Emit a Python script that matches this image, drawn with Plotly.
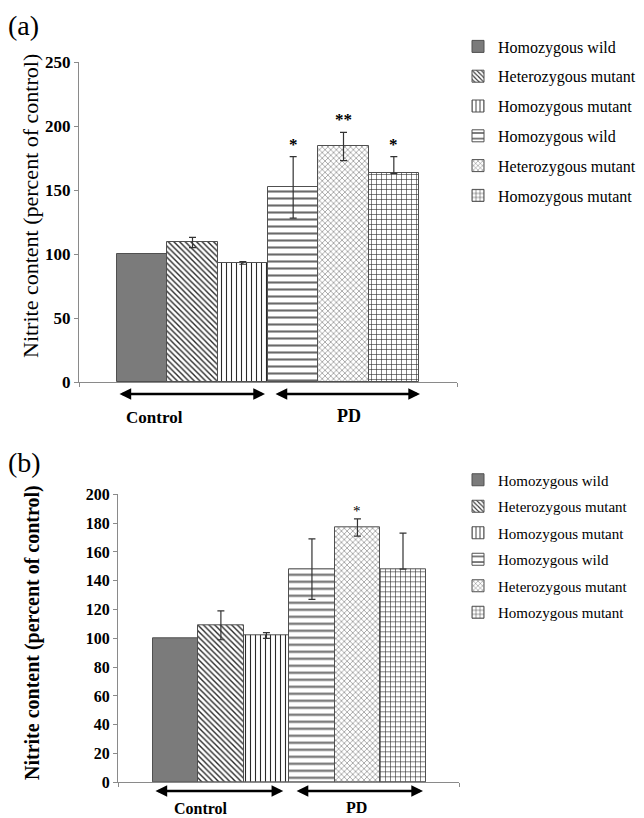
import plotly.graph_objects as go

# ---- data ----
genotypes = ["Homozygous wild", "Heterozygous mutant", "Homozygous mutant",
             "Homozygous wild", "Heterozygous mutant", "Homozygous mutant"]
groups = ["Control", "PD"]

a_values = [100, 109, 93, 152, 184, 163]
a_err_up = [0, 4, 1, 24, 11, 13]
a_err_down = [0, 4, 1, 24, 11, 0]
a_sig = ["", "", "", "*", "**", "*"]

b_values = [100, 109, 102, 148, 177, 148]
b_err_up = [0, 10, 2, 21, 6, 25]
b_err_down = [0, 10, 2, 21, 6, 0]
b_sig = ["", "", "", "", "*", ""]

a_ticks = [0, 50, 100, 150, 200, 250]
b_ticks = [0, 20, 40, 60, 80, 100, 120, 140, 160, 180, 200]

# ---- styles ----
patterns = [
    dict(shape="", color="#7b7b7b"),
    dict(shape="\\", size=4, solidity=0.35, fg="#2a2a2a"),
    dict(shape="|", size=5, solidity=0.22, fg="#2a2a2a"),
    dict(shape="-", size=7, solidity=0.3, fg="#6a6a6a"),
    dict(shape="x", size=4, solidity=0.2, fg="#3a3a3a"),
    dict(shape="+", size=5, solidity=0.22, fg="#2a2a2a"),
]

SERIF = "Liberation Serif"

fig = go.Figure()


def add_panel(values, err_up, err_down, xa, ya, legend):
    for i, (name, v) in enumerate(zip(genotypes, values)):
        p = patterns[i]
        if p["shape"] == "":
            marker = dict(color=p["color"], line=dict(color="#505050", width=1))
        else:
            marker = dict(color="white", line=dict(color="#505050", width=1),
                          pattern=dict(shape=p["shape"], size=p["size"], solidity=p["solidity"],
                                       fgcolor=p["fg"], bgcolor="white", fillmode="replace"))
        fig.add_trace(go.Bar(
            x=[i], y=[v], width=1, name=name, marker=marker,
            xaxis=xa, yaxis=ya, legend=legend, legendgroup=legend + str(i),
            error_y=dict(type="data", symmetric=False, array=[err_up[i]], arrayminus=[err_down[i]],
                         visible=err_up[i] > 0, color="#333333", thickness=1.2, width=3.5),
            showlegend=True,
        ))


add_panel(a_values, a_err_up, a_err_down, "x", "y", "legend")
add_panel(b_values, b_err_up, b_err_down, "x2", "y2", "legend2")

H = 818.0
W = 644.0

def py(px):
    return (H - px) / H

def pxx(px):
    return px / W

ann = []
# significance marks
for i, s in enumerate(a_sig):
    if s:
        ann.append(dict(x=i, y=a_values[i] + a_err_up[i], xref="x", yref="y", text="<b>" + s + "</b>",
                        showarrow=False, yanchor="bottom", xanchor="center", yshift=1,
                        font=dict(family=SERIF, size=17, color="black")))
for i, s in enumerate(b_sig):
    if s:
        ann.append(dict(x=i, y=b_values[i] + b_err_up[i], xref="x2", yref="y2", text=s,
                        showarrow=False, yanchor="bottom", xanchor="center", yshift=-2,
                        font=dict(family=SERIF, size=15, color="black")))

# group arrows
def arrow(xref, x0, x1, ypx):
    return dict(x=x1, y=py(ypx), ax=x0, ay=0, xref=xref, yref="paper", axref=xref, ayref="pixel",
                text="", showarrow=True, arrowhead=2, arrowside="end+start", arrowsize=0.9,
                arrowwidth=2.6, arrowcolor="black")

ann += [arrow("x", -0.48, 2.44, 394), arrow("x", 2.62, 5.52, 394),
        arrow("x2", -0.47, 2.37, 791), arrow("x2", 2.63, 5.44, 791)]

def label(x, xref, ypx, text, size, angle=0, anchor="center"):
    return dict(x=x, y=py(ypx), xref=xref, yref="paper", text=text, showarrow=False,
                xanchor=anchor, yanchor="middle", textangle=angle,
                font=dict(family=SERIF, size=size, color="black"))

# group labels
ann += [label(0.24, "x", 417, "<b>" + groups[0] + "</b>", 17),
        label(4.11, "x", 416, "<b>" + groups[1] + "</b>", 18),
        label(0.56, "x2", 808, "<b>" + groups[0] + "</b>", 16),
        label(3.98, "x2", 807, "<b>" + groups[1] + "</b>", 16)]

# axis titles
ann += [label(pxx(30), "paper", 206, "Nitrite content (percent of control)", 22, angle=-90),
        label(pxx(32), "paper", 633, "<b>Nitrite content (percent of control)</b>", 20, angle=-90)]

# panel labels
ann += [label(pxx(6), "paper", 26, "(a)", 28, anchor="left"),
        label(pxx(6), "paper", 462, "(b)", 28, anchor="left")]

axis_common = dict(showline=True, linecolor="#8a8a8a", linewidth=1.2, showgrid=False, zeroline=False,
                   ticks="outside", tickcolor="#8a8a8a", ticklen=4)

a_xr = [-1.255, 6.255]
b_xr = [-1.26, 6.23]

fig.update_layout(
    width=644, height=818, margin=dict(l=0, r=0, t=0, b=0, autoexpand=False),
    paper_bgcolor="white", plot_bgcolor="white",
    barmode="overlay", bargap=0,
    xaxis=dict(domain=[pxx(79), pxx(457)], range=a_xr, tickvals=a_xr, ticktext=["", ""],
               anchor="y", **axis_common),
    yaxis=dict(domain=[py(382), py(62)], range=[0, 250], tickvals=a_ticks, anchor="x",
               tickfont=dict(family=SERIF, size=17, color="black", weight="bold"), **axis_common),
    xaxis2=dict(domain=[pxx(118), pxx(459)], range=b_xr, tickvals=b_xr, ticktext=["", ""],
                anchor="y2", **axis_common),
    yaxis2=dict(domain=[py(782.3), py(494.3)], range=[0, 200], tickvals=b_ticks, anchor="x2",
                tickfont=dict(family=SERIF, size=16, color="black", weight="bold"), **axis_common),
    legend=dict(x=pxx(458), y=py(29.5), xanchor="left", yanchor="top", bgcolor="rgba(0,0,0,0)",
                tracegroupgap=6, font=dict(family=SERIF, size=16, color="black")),
    legend2=dict(x=pxx(458), y=py(463.5), xanchor="left", yanchor="top", bgcolor="rgba(0,0,0,0)",
                 tracegroupgap=4, font=dict(family=SERIF, size=15, color="black")),
    annotations=ann,
    showlegend=True,
)

fig.write_html("out.html", config={"displayModeBar": False},
               post_script="document.body.style.margin='0';document.body.style.padding='0';")
